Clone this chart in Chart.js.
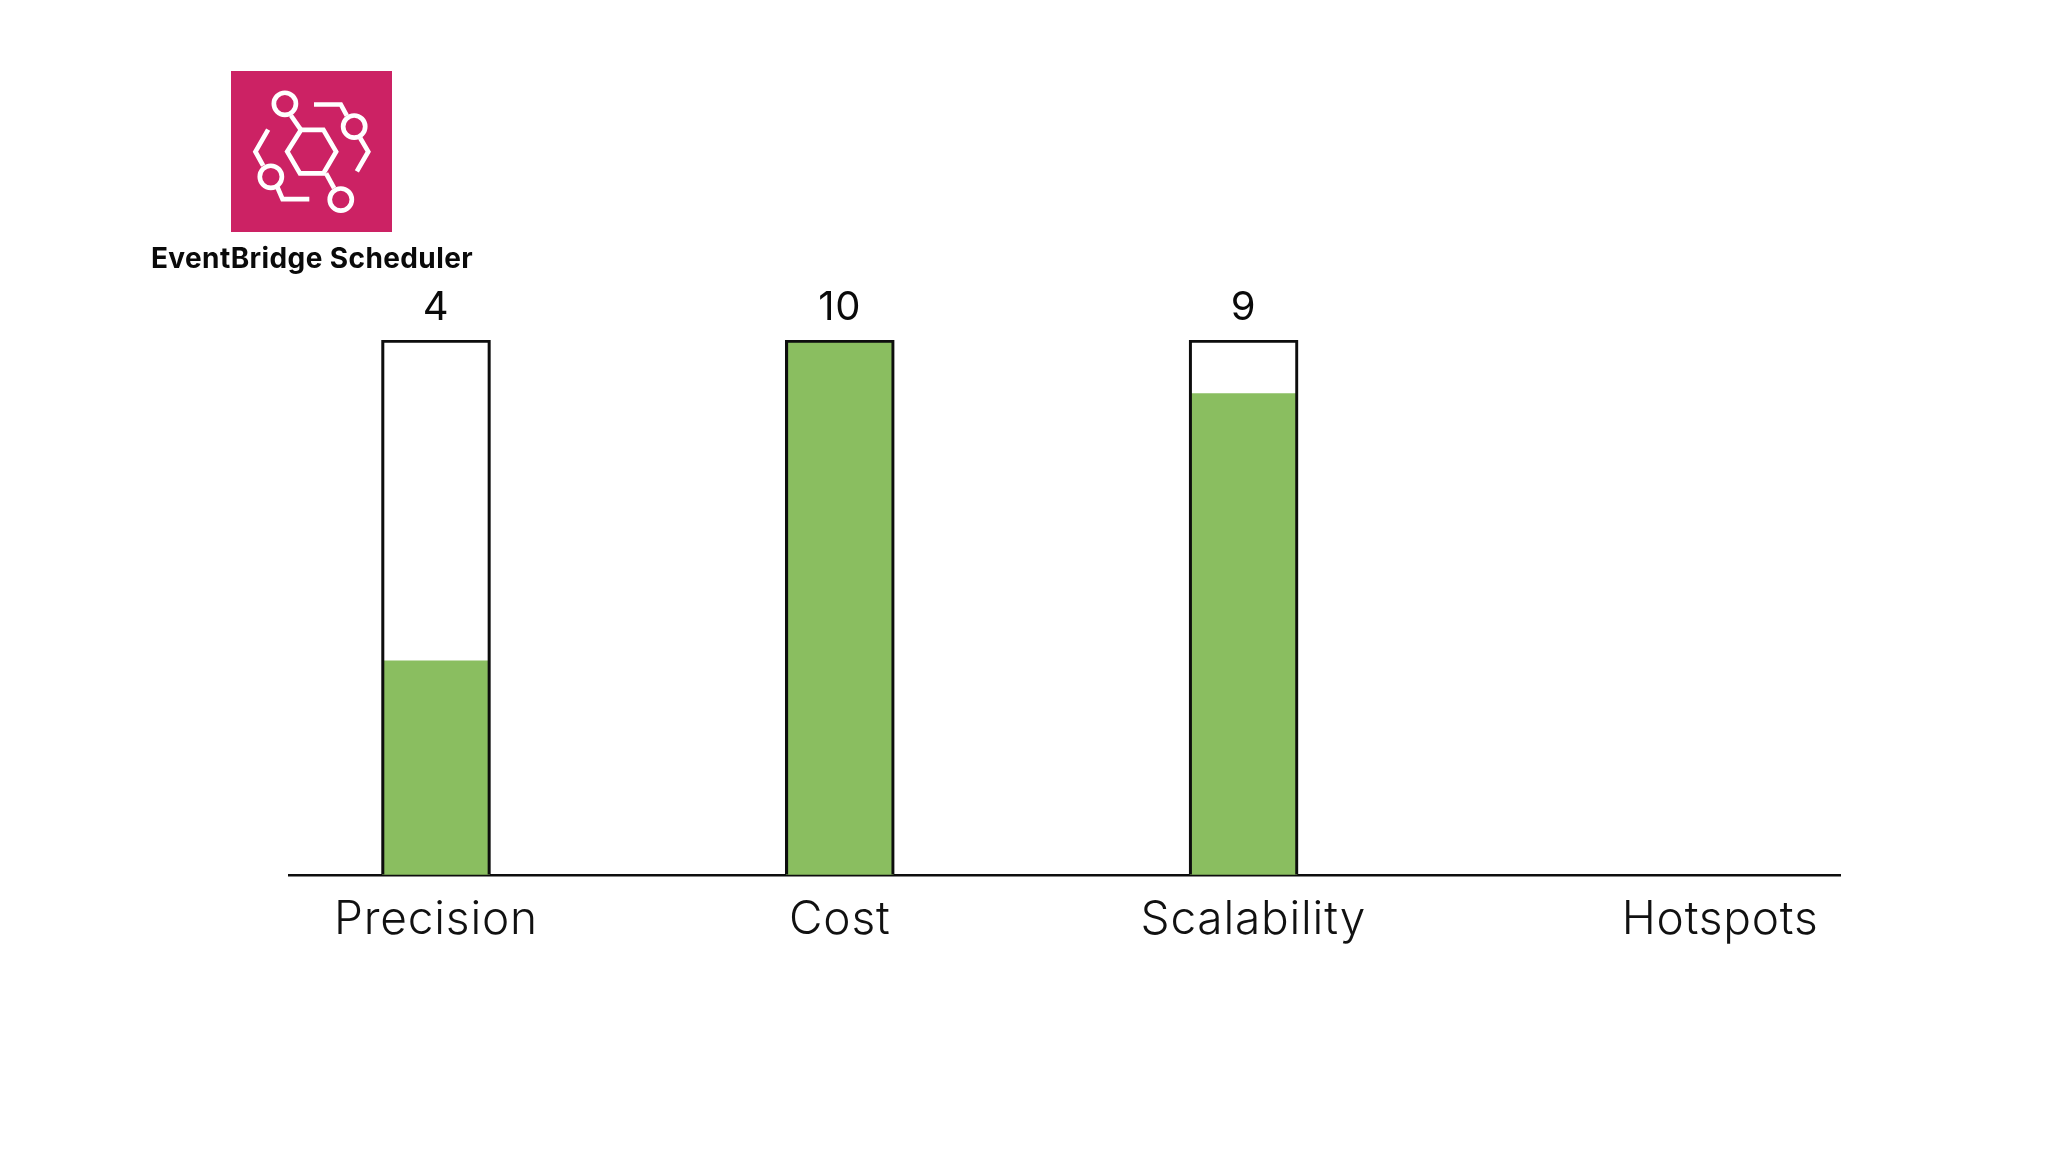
<!DOCTYPE html>
<html>
<head>
<meta charset="utf-8">
<title>EventBridge Scheduler</title>
<script src="https://cdn.jsdelivr.net/npm/chart.js@4"></script>
<style>
  html, body { margin: 0; padding: 0; background: #fff; }
  #wrap { position: relative; width: 2048px; height: 1152px; overflow: hidden; }
  #scoreChart { position: absolute; left: 0; top: 0; }
  #icon { position: absolute; left: 231px; top: 71px; width: 161px; height: 161px; }
  #product {
    position: absolute; left: 112px; width: 400px; top: 241px; text-align: center;
    font: 700 28px Inter, sans-serif; letter-spacing: 0.4px; color: #0a0a0a; white-space: nowrap;
  }
</style>
</head>
<body>
<div id="wrap">
  <canvas id="scoreChart" width="2048" height="1152"></canvas>
  <svg id="icon" viewBox="304 62 481 481">
    <rect x="304" y="62" width="481" height="481" fill="#cc2264"/>
    <g fill="none" stroke="#fff" stroke-width="14" stroke-linejoin="miter">
      <polygon points="513,238 580,238 618,303 580,368 510,368 472,303"/>
      <circle cx="465" cy="160" r="33"/>
      <polyline points="483,195 513,238"/>
      <circle cx="632" cy="446" r="33"/>
      <polyline points="588,368 612,412"/>
      <polyline points="552,162 632,162 650,195"/>
      <circle cx="672" cy="228" r="33"/>
      <polyline points="690,262 714,303 680,362"/>
      <polyline points="415,237 377,303 400,345"/>
      <circle cx="423" cy="378" r="33"/>
      <polyline points="443,410 458,445 538,445"/>
    </g>
  </svg>
  <div id="product">EventBridge Scheduler</div>
</div>
<script>
// Chart data
var categories = ['Precision', 'Cost', 'Scalability', 'Hotspots'];
var scores = [4, 10, 9, null];
var maxScores = [10, 10, 10, null];
var barSlots = [0, 1, 2, 3];
// The labels in the picture do not sit exactly under their bars
var labelSlots = [0, 1, 2.024, 3.18];

function toPoints(values) {
    return values.map(function (v, i) {
        return { x: barSlots[i], y: v };
    });
}

// Montserrat is not installed, so Inter gets a little extra tracking
var tracking = {
    id: 'tracking',
    beforeDraw: function (chart) {
        chart.ctx.letterSpacing = '0.8px';
    }
};

// Writes the score above each outlined bar
var scoreLabels = {
    id: 'scoreLabels',
    afterDatasetsDraw: function (chart) {
        var ctx = chart.ctx;
        var bars = chart.getDatasetMeta(0).data;
        ctx.save();
        ctx.font = '400 40px Inter, sans-serif';
        ctx.fillStyle = '#0a0a0a';
        ctx.textAlign = 'center';
        ctx.textBaseline = 'alphabetic';
        scores.forEach(function (score, i) {
            if (score === null) return;
            ctx.fillText(score, bars[i].x, bars[i].y - 20);
        });
        ctx.restore();
    }
};

var scoreChart = new Chart(document.getElementById('scoreChart').getContext('2d'), {
    type: 'bar',
    data: {
        datasets: [{
            // outline
            data: toPoints(maxScores),
            backgroundColor: 'rgba(0,0,0,0)',
            borderColor: '#0d0d0d',
            borderWidth: { top: 2.5, left: 2.5, right: 2.5, bottom: 0 },
            barThickness: 109,
            order: 1
        }, {
            // score fill
            data: toPoints(scores),
            backgroundColor: '#8abe60',
            borderWidth: 0,
            barThickness: 107,
            order: 2
        }]
    },
    plugins: [tracking, scoreLabels],
    options: {
        responsive: false,
        animation: false,
        devicePixelRatio: 1,
        layout: { padding: { left: 289, right: 208, top: 340, bottom: 194 } },
        datasets: { bar: { grouped: false } },
        plugins: { legend: { display: false }, tooltip: { enabled: false } },
        scales: {
            x: {
                type: 'linear',
                offset: false,
                bounds: 'data',
                min: -0.364,
                max: 3.477,
                grid: { display: false, offset: false },
                border: { display: true, color: '#0d0d0d', width: 2.5 },
                afterBuildTicks: function (axis) {
                    axis.ticks = labelSlots.map(function (v) { return { value: v }; });
                },
                ticks: {
                    autoSkip: false,
                    maxRotation: 0,
                    padding: 10,
                    color: '#111',
                    font: { family: 'Inter, sans-serif', size: 46, weight: 300 },
                    callback: function (value, index) { return categories[index]; }
                }
            },
            y: {
                display: false,
                min: 0,
                max: 10
            }
        }
    }
});
</script>
</body>
</html>
